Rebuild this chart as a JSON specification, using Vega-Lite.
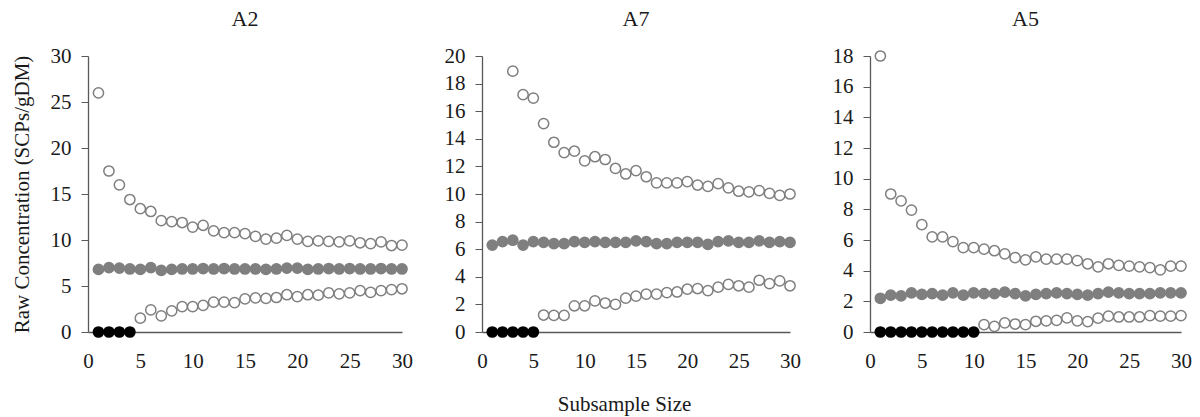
{
  "$schema": "https://vega.github.io/schema/vega-lite/v6.json",
  "padding": {"left": 10, "top": 8, "right": 5, "bottom": 5},
  "background": "white",
  "config": {
    "font": "Times New Roman, Liberation Serif, serif",
    "view": {"stroke": null},
    "axis": {"grid": false, "labelFont": "Times New Roman, Liberation Serif, serif", "titleFont": "Times New Roman, Liberation Serif, serif", "labelFontSize": 21, "labelColor": "#1a1a1a", "domainColor": "#595959", "tickColor": "#595959", "titleFontSize": 21, "titleFontWeight": "normal", "titleColor": "#1a1a1a", "domainWidth": 1.3, "labelFlush": false},
    "title": {"font": "Times New Roman, Liberation Serif, serif", "fontSize": 22, "fontWeight": "normal", "color": "#1a1a1a", "offset": 14}
  },
  "datasets": {
    "d": [
      {"p":"A2","k":"u","x":1,"y":26.0},{"p":"A2","k":"u","x":2,"y":17.5},{"p":"A2","k":"u","x":3,"y":16.0},{"p":"A2","k":"u","x":4,"y":14.4},{"p":"A2","k":"u","x":5,"y":13.4},{"p":"A2","k":"u","x":6,"y":13.1},{"p":"A2","k":"u","x":7,"y":12.1},{"p":"A2","k":"u","x":8,"y":12.0},{"p":"A2","k":"u","x":9,"y":11.9},{"p":"A2","k":"u","x":10,"y":11.4},{"p":"A2","k":"u","x":11,"y":11.6},{"p":"A2","k":"u","x":12,"y":11.0},{"p":"A2","k":"u","x":13,"y":10.8},{"p":"A2","k":"u","x":14,"y":10.8},{"p":"A2","k":"u","x":15,"y":10.7},{"p":"A2","k":"u","x":16,"y":10.4},{"p":"A2","k":"u","x":17,"y":10.1},{"p":"A2","k":"u","x":18,"y":10.2},{"p":"A2","k":"u","x":19,"y":10.5},{"p":"A2","k":"u","x":20,"y":10.1},{"p":"A2","k":"u","x":21,"y":9.85},{"p":"A2","k":"u","x":22,"y":9.9},{"p":"A2","k":"u","x":23,"y":9.85},{"p":"A2","k":"u","x":24,"y":9.8},{"p":"A2","k":"u","x":25,"y":9.9},{"p":"A2","k":"u","x":26,"y":9.7},{"p":"A2","k":"u","x":27,"y":9.6},{"p":"A2","k":"u","x":28,"y":9.8},{"p":"A2","k":"u","x":29,"y":9.4},{"p":"A2","k":"u","x":30,"y":9.45},
      {"p":"A2","k":"m","x":1,"y":6.8},{"p":"A2","k":"m","x":2,"y":7.0},{"p":"A2","k":"m","x":3,"y":6.95},{"p":"A2","k":"m","x":4,"y":6.85},{"p":"A2","k":"m","x":5,"y":6.8},{"p":"A2","k":"m","x":6,"y":7.0},{"p":"A2","k":"m","x":7,"y":6.7},{"p":"A2","k":"m","x":8,"y":6.8},{"p":"A2","k":"m","x":9,"y":6.85},{"p":"A2","k":"m","x":10,"y":6.85},{"p":"A2","k":"m","x":11,"y":6.9},{"p":"A2","k":"m","x":12,"y":6.85},{"p":"A2","k":"m","x":13,"y":6.9},{"p":"A2","k":"m","x":14,"y":6.85},{"p":"A2","k":"m","x":15,"y":6.85},{"p":"A2","k":"m","x":16,"y":6.85},{"p":"A2","k":"m","x":17,"y":6.8},{"p":"A2","k":"m","x":18,"y":6.85},{"p":"A2","k":"m","x":19,"y":6.95},{"p":"A2","k":"m","x":20,"y":6.95},{"p":"A2","k":"m","x":21,"y":6.8},{"p":"A2","k":"m","x":22,"y":6.85},{"p":"A2","k":"m","x":23,"y":6.9},{"p":"A2","k":"m","x":24,"y":6.85},{"p":"A2","k":"m","x":25,"y":6.9},{"p":"A2","k":"m","x":26,"y":6.85},{"p":"A2","k":"m","x":27,"y":6.85},{"p":"A2","k":"m","x":28,"y":6.9},{"p":"A2","k":"m","x":29,"y":6.85},{"p":"A2","k":"m","x":30,"y":6.85},
      {"p":"A2","k":"l","x":5,"y":1.5},{"p":"A2","k":"l","x":6,"y":2.4},{"p":"A2","k":"l","x":7,"y":1.75},{"p":"A2","k":"l","x":8,"y":2.3},{"p":"A2","k":"l","x":9,"y":2.75},{"p":"A2","k":"l","x":10,"y":2.75},{"p":"A2","k":"l","x":11,"y":2.9},{"p":"A2","k":"l","x":12,"y":3.25},{"p":"A2","k":"l","x":13,"y":3.25},{"p":"A2","k":"l","x":14,"y":3.2},{"p":"A2","k":"l","x":15,"y":3.6},{"p":"A2","k":"l","x":16,"y":3.7},{"p":"A2","k":"l","x":17,"y":3.65},{"p":"A2","k":"l","x":18,"y":3.75},{"p":"A2","k":"l","x":19,"y":4.05},{"p":"A2","k":"l","x":20,"y":3.85},{"p":"A2","k":"l","x":21,"y":4.05},{"p":"A2","k":"l","x":22,"y":4.0},{"p":"A2","k":"l","x":23,"y":4.25},{"p":"A2","k":"l","x":24,"y":4.15},{"p":"A2","k":"l","x":25,"y":4.25},{"p":"A2","k":"l","x":26,"y":4.5},{"p":"A2","k":"l","x":27,"y":4.3},{"p":"A2","k":"l","x":28,"y":4.5},{"p":"A2","k":"l","x":29,"y":4.6},{"p":"A2","k":"l","x":30,"y":4.7},
      {"p":"A2","k":"z","x":1,"y":0},{"p":"A2","k":"z","x":2,"y":0},{"p":"A2","k":"z","x":3,"y":0},{"p":"A2","k":"z","x":4,"y":0},
      {"p":"A7","k":"u","x":3,"y":18.9},{"p":"A7","k":"u","x":4,"y":17.2},{"p":"A7","k":"u","x":5,"y":16.95},{"p":"A7","k":"u","x":6,"y":15.1},{"p":"A7","k":"u","x":7,"y":13.75},{"p":"A7","k":"u","x":8,"y":13.0},{"p":"A7","k":"u","x":9,"y":13.1},{"p":"A7","k":"u","x":10,"y":12.4},{"p":"A7","k":"u","x":11,"y":12.7},{"p":"A7","k":"u","x":12,"y":12.5},{"p":"A7","k":"u","x":13,"y":11.85},{"p":"A7","k":"u","x":14,"y":11.45},{"p":"A7","k":"u","x":15,"y":11.7},{"p":"A7","k":"u","x":16,"y":11.25},{"p":"A7","k":"u","x":17,"y":10.8},{"p":"A7","k":"u","x":18,"y":10.8},{"p":"A7","k":"u","x":19,"y":10.8},{"p":"A7","k":"u","x":20,"y":10.9},{"p":"A7","k":"u","x":21,"y":10.65},{"p":"A7","k":"u","x":22,"y":10.55},{"p":"A7","k":"u","x":23,"y":10.75},{"p":"A7","k":"u","x":24,"y":10.45},{"p":"A7","k":"u","x":25,"y":10.2},{"p":"A7","k":"u","x":26,"y":10.15},{"p":"A7","k":"u","x":27,"y":10.25},{"p":"A7","k":"u","x":28,"y":10.05},{"p":"A7","k":"u","x":29,"y":9.9},{"p":"A7","k":"u","x":30,"y":10.0},
      {"p":"A7","k":"m","x":1,"y":6.3},{"p":"A7","k":"m","x":2,"y":6.55},{"p":"A7","k":"m","x":3,"y":6.65},{"p":"A7","k":"m","x":4,"y":6.3},{"p":"A7","k":"m","x":5,"y":6.55},{"p":"A7","k":"m","x":6,"y":6.5},{"p":"A7","k":"m","x":7,"y":6.4},{"p":"A7","k":"m","x":8,"y":6.4},{"p":"A7","k":"m","x":9,"y":6.55},{"p":"A7","k":"m","x":10,"y":6.5},{"p":"A7","k":"m","x":11,"y":6.55},{"p":"A7","k":"m","x":12,"y":6.5},{"p":"A7","k":"m","x":13,"y":6.5},{"p":"A7","k":"m","x":14,"y":6.5},{"p":"A7","k":"m","x":15,"y":6.6},{"p":"A7","k":"m","x":16,"y":6.55},{"p":"A7","k":"m","x":17,"y":6.4},{"p":"A7","k":"m","x":18,"y":6.4},{"p":"A7","k":"m","x":19,"y":6.5},{"p":"A7","k":"m","x":20,"y":6.5},{"p":"A7","k":"m","x":21,"y":6.5},{"p":"A7","k":"m","x":22,"y":6.35},{"p":"A7","k":"m","x":23,"y":6.55},{"p":"A7","k":"m","x":24,"y":6.6},{"p":"A7","k":"m","x":25,"y":6.5},{"p":"A7","k":"m","x":26,"y":6.5},{"p":"A7","k":"m","x":27,"y":6.6},{"p":"A7","k":"m","x":28,"y":6.5},{"p":"A7","k":"m","x":29,"y":6.55},{"p":"A7","k":"m","x":30,"y":6.5},
      {"p":"A7","k":"l","x":6,"y":1.23},{"p":"A7","k":"l","x":7,"y":1.2},{"p":"A7","k":"l","x":8,"y":1.2},{"p":"A7","k":"l","x":9,"y":1.9},{"p":"A7","k":"l","x":10,"y":1.9},{"p":"A7","k":"l","x":11,"y":2.25},{"p":"A7","k":"l","x":12,"y":2.1},{"p":"A7","k":"l","x":13,"y":2.0},{"p":"A7","k":"l","x":14,"y":2.45},{"p":"A7","k":"l","x":15,"y":2.6},{"p":"A7","k":"l","x":16,"y":2.75},{"p":"A7","k":"l","x":17,"y":2.75},{"p":"A7","k":"l","x":18,"y":2.85},{"p":"A7","k":"l","x":19,"y":2.9},{"p":"A7","k":"l","x":20,"y":3.1},{"p":"A7","k":"l","x":21,"y":3.15},{"p":"A7","k":"l","x":22,"y":3.0},{"p":"A7","k":"l","x":23,"y":3.25},{"p":"A7","k":"l","x":24,"y":3.45},{"p":"A7","k":"l","x":25,"y":3.35},{"p":"A7","k":"l","x":26,"y":3.25},{"p":"A7","k":"l","x":27,"y":3.75},{"p":"A7","k":"l","x":28,"y":3.5},{"p":"A7","k":"l","x":29,"y":3.7},{"p":"A7","k":"l","x":30,"y":3.35},
      {"p":"A7","k":"z","x":1,"y":0},{"p":"A7","k":"z","x":2,"y":0},{"p":"A7","k":"z","x":3,"y":0},{"p":"A7","k":"z","x":4,"y":0},{"p":"A7","k":"z","x":5,"y":0},
      {"p":"A5","k":"u","x":1,"y":18.0},{"p":"A5","k":"u","x":2,"y":9.0},{"p":"A5","k":"u","x":3,"y":8.55},{"p":"A5","k":"u","x":4,"y":7.95},{"p":"A5","k":"u","x":5,"y":7.0},{"p":"A5","k":"u","x":6,"y":6.2},{"p":"A5","k":"u","x":7,"y":6.2},{"p":"A5","k":"u","x":8,"y":5.9},{"p":"A5","k":"u","x":9,"y":5.5},{"p":"A5","k":"u","x":10,"y":5.5},{"p":"A5","k":"u","x":11,"y":5.4},{"p":"A5","k":"u","x":12,"y":5.3},{"p":"A5","k":"u","x":13,"y":5.1},{"p":"A5","k":"u","x":14,"y":4.85},{"p":"A5","k":"u","x":15,"y":4.7},{"p":"A5","k":"u","x":16,"y":4.9},{"p":"A5","k":"u","x":17,"y":4.75},{"p":"A5","k":"u","x":18,"y":4.75},{"p":"A5","k":"u","x":19,"y":4.75},{"p":"A5","k":"u","x":20,"y":4.65},{"p":"A5","k":"u","x":21,"y":4.45},{"p":"A5","k":"u","x":22,"y":4.25},{"p":"A5","k":"u","x":23,"y":4.45},{"p":"A5","k":"u","x":24,"y":4.35},{"p":"A5","k":"u","x":25,"y":4.3},{"p":"A5","k":"u","x":26,"y":4.25},{"p":"A5","k":"u","x":27,"y":4.2},{"p":"A5","k":"u","x":28,"y":4.05},{"p":"A5","k":"u","x":29,"y":4.3},{"p":"A5","k":"u","x":30,"y":4.3},
      {"p":"A5","k":"m","x":1,"y":2.2},{"p":"A5","k":"m","x":2,"y":2.4},{"p":"A5","k":"m","x":3,"y":2.35},{"p":"A5","k":"m","x":4,"y":2.55},{"p":"A5","k":"m","x":5,"y":2.45},{"p":"A5","k":"m","x":6,"y":2.5},{"p":"A5","k":"m","x":7,"y":2.4},{"p":"A5","k":"m","x":8,"y":2.55},{"p":"A5","k":"m","x":9,"y":2.4},{"p":"A5","k":"m","x":10,"y":2.55},{"p":"A5","k":"m","x":11,"y":2.5},{"p":"A5","k":"m","x":12,"y":2.5},{"p":"A5","k":"m","x":13,"y":2.6},{"p":"A5","k":"m","x":14,"y":2.5},{"p":"A5","k":"m","x":15,"y":2.35},{"p":"A5","k":"m","x":16,"y":2.45},{"p":"A5","k":"m","x":17,"y":2.5},{"p":"A5","k":"m","x":18,"y":2.55},{"p":"A5","k":"m","x":19,"y":2.5},{"p":"A5","k":"m","x":20,"y":2.45},{"p":"A5","k":"m","x":21,"y":2.4},{"p":"A5","k":"m","x":22,"y":2.5},{"p":"A5","k":"m","x":23,"y":2.6},{"p":"A5","k":"m","x":24,"y":2.55},{"p":"A5","k":"m","x":25,"y":2.5},{"p":"A5","k":"m","x":26,"y":2.5},{"p":"A5","k":"m","x":27,"y":2.5},{"p":"A5","k":"m","x":28,"y":2.55},{"p":"A5","k":"m","x":29,"y":2.55},{"p":"A5","k":"m","x":30,"y":2.55},
      {"p":"A5","k":"l","x":11,"y":0.48},{"p":"A5","k":"l","x":12,"y":0.37},{"p":"A5","k":"l","x":13,"y":0.6},{"p":"A5","k":"l","x":14,"y":0.52},{"p":"A5","k":"l","x":15,"y":0.48},{"p":"A5","k":"l","x":16,"y":0.7},{"p":"A5","k":"l","x":17,"y":0.72},{"p":"A5","k":"l","x":18,"y":0.76},{"p":"A5","k":"l","x":19,"y":0.92},{"p":"A5","k":"l","x":20,"y":0.72},{"p":"A5","k":"l","x":21,"y":0.68},{"p":"A5","k":"l","x":22,"y":0.9},{"p":"A5","k":"l","x":23,"y":1.03},{"p":"A5","k":"l","x":24,"y":0.98},{"p":"A5","k":"l","x":25,"y":0.98},{"p":"A5","k":"l","x":26,"y":0.98},{"p":"A5","k":"l","x":27,"y":1.07},{"p":"A5","k":"l","x":28,"y":1.03},{"p":"A5","k":"l","x":29,"y":1.03},{"p":"A5","k":"l","x":30,"y":1.07},
      {"p":"A5","k":"z","x":1,"y":0},{"p":"A5","k":"z","x":2,"y":0},{"p":"A5","k":"z","x":3,"y":0},{"p":"A5","k":"z","x":4,"y":0},{"p":"A5","k":"z","x":5,"y":0},{"p":"A5","k":"z","x":6,"y":0},{"p":"A5","k":"z","x":7,"y":0},{"p":"A5","k":"z","x":8,"y":0},{"p":"A5","k":"z","x":9,"y":0},{"p":"A5","k":"z","x":10,"y":0}
    ]
  },
  "data": {"name": "d"},
  "spacing": 80,
  "bounds": "flush",
  "hconcat": [
    {
      "width": 314, "height": 276,
      "title": "A2",
      "transform": [{"filter": "datum.p === 'A2'"}],
      "mark": {"type": "point", "shape": "circle", "filled": true, "size": 105, "strokeWidth": 1.5, "opacity": 1},
      "encoding": {
        "x": {"field": "x", "type": "quantitative", "scale": {"domain": [0, 30], "nice": false}, "axis": {"values": [0,5,10,15,20,25,30], "ticks": false, "labelPadding": 18, "title": null}},
        "y": {"field": "y", "type": "quantitative", "scale": {"domain": [0, 30], "nice": false}, "axis": {"values": [0,5,10,15,20,25,30], "tickSize": 7, "labelPadding": 10, "title": "Raw Concentration (SCPs/gDM)", "titlePadding": 18}},
        "fill": {"field": "k", "type": "nominal", "scale": {"domain": ["u","l","m","z"], "range": ["#ffffff","#ffffff","#7f7f7f","#000000"]}, "legend": null},
        "stroke": {"field": "k", "type": "nominal", "scale": {"domain": ["u","l","m","z"], "range": ["#7f7f7f","#7f7f7f","#7f7f7f","#000000"]}, "legend": null}
      }
    },
    {
      "width": 308, "height": 276,
      "title": "A7",
      "transform": [{"filter": "datum.p === 'A7'"}],
      "mark": {"type": "point", "shape": "circle", "filled": true, "size": 105, "strokeWidth": 1.5, "opacity": 1},
      "encoding": {
        "x": {"field": "x", "type": "quantitative", "scale": {"domain": [0, 30], "nice": false}, "axis": {"values": [0,5,10,15,20,25,30], "ticks": false, "labelPadding": 18, "title": "Subsample Size", "titleX": 142, "titlePadding": 22}},
        "y": {"field": "y", "type": "quantitative", "scale": {"domain": [0, 20], "nice": false}, "axis": {"values": [0,2,4,6,8,10,12,14,16,18,20], "tickSize": 7, "labelPadding": 10, "title": null}},
        "fill": {"field": "k", "type": "nominal", "scale": {"domain": ["u","l","m","z"], "range": ["#ffffff","#ffffff","#7f7f7f","#000000"]}, "legend": null},
        "stroke": {"field": "k", "type": "nominal", "scale": {"domain": ["u","l","m","z"], "range": ["#7f7f7f","#7f7f7f","#7f7f7f","#000000"]}, "legend": null}
      }
    },
    {
      "width": 311, "height": 276,
      "title": "A5",
      "transform": [{"filter": "datum.p === 'A5'"}],
      "mark": {"type": "point", "shape": "circle", "filled": true, "size": 105, "strokeWidth": 1.5, "opacity": 1},
      "encoding": {
        "x": {"field": "x", "type": "quantitative", "scale": {"domain": [0, 30], "nice": false}, "axis": {"values": [0,5,10,15,20,25,30], "ticks": false, "labelPadding": 18, "title": null}},
        "y": {"field": "y", "type": "quantitative", "scale": {"domain": [0, 18], "nice": false}, "axis": {"values": [0,2,4,6,8,10,12,14,16,18], "tickSize": 7, "labelPadding": 10, "title": null}},
        "fill": {"field": "k", "type": "nominal", "scale": {"domain": ["u","l","m","z"], "range": ["#ffffff","#ffffff","#7f7f7f","#000000"]}, "legend": null},
        "stroke": {"field": "k", "type": "nominal", "scale": {"domain": ["u","l","m","z"], "range": ["#7f7f7f","#7f7f7f","#7f7f7f","#000000"]}, "legend": null}
      }
    }
  ]
}
